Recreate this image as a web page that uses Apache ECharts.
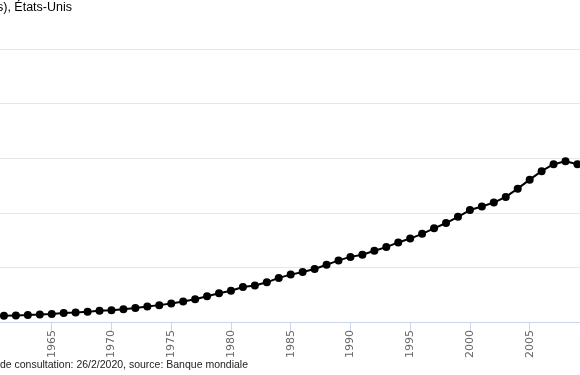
<!DOCTYPE html>
<html>
<head>
<meta charset="utf-8">
<script src="https://cdn.jsdelivr.net/npm/echarts@6/dist/echarts.min.js"></script>
<style>
  html, body { margin: 0; padding: 0; overflow: hidden; background: #fff; }
  #chart { position: absolute; left: -200px; top: 0; width: 1000px; height: 375px; }
</style>
</head>
<body>
<div id="chart"></div>
<script>
// annees et PIB en milliards de $ US courants
var years = [];
for (var y = 1960; y <= 2018; y++) { years.push(String(y)); }

var pib = [
    543.3, 563.3, 605.1, 638.6, 685.8, 743.7, 815.0, 861.7, 942.5, 1019.9,
    1073.3, 1164.9, 1279.1, 1425.4, 1545.2, 1684.9, 1873.4, 2081.8, 2351.6, 2627.3,
    2857.3, 3207.0, 3343.8, 3634.0, 4037.6, 4338.9, 4579.6, 4855.2, 5236.4, 5641.6,
    5963.1, 6158.1, 6520.3, 6858.6, 7287.2, 7639.7, 8073.1, 8577.6, 9062.8, 9631.2,
    10252.3, 10581.8, 10936.4, 11458.2, 12213.7, 13036.6, 13814.6, 14451.9, 14712.8, 14448.9,
    14992.1, 15542.6, 16197.0, 16784.9, 17527.3, 18238.3, 18745.1, 19543.0, 20611.9
];

var titre = 'PIB ($ US courants), États-Unis';
var source = 'Date de consultation: 26/2/2020, source: Banque mondiale';

var chart = echarts.init(document.getElementById('chart'));

var option = {
    animation: false,
    grid: {
        left: 192,
        top: 49,
        width: 693,
        height: 273
    },
    graphic: [
        {
            type: 'text',
            x: 272,
            y: 8,
            style: {
                text: titre,
                align: 'right',
                verticalAlign: 'middle',
                fill: '#000',
                font: '12.5px "Liberation Sans", Arial, sans-serif'
            }
        },
        {
            type: 'text',
            x: 448,
            y: 365,
            style: {
                text: source,
                align: 'right',
                verticalAlign: 'middle',
                fill: '#222',
                font: '10.5px "Liberation Sans", Arial, sans-serif'
            }
        }
    ],
    xAxis: {
        type: 'category',
        boundaryGap: false,
        data: years,
        axisLine: { lineStyle: { color: '#ccd6eb', width: 1 } },
        axisTick: {
            interval: 4,
            length: 10,
            lineStyle: { color: '#ccd6eb' }
        },
        axisLabel: {
            interval: 4,
            rotate: 90,
            color: '#666',
            fontSize: 11,
            fontFamily: '"DejaVu Sans", Verdana, sans-serif',
            margin: 8
        },
        splitLine: { show: false }
    },
    yAxis: {
        type: 'value',
        min: 0,
        max: 25000,
        interval: 5000,
        axisLine: { show: false },
        axisTick: { show: false },
        axisLabel: {
            color: '#666',
            fontSize: 11,
            formatter: function(v) { return (v / 1000) + ' T'; }
        },
        splitLine: { lineStyle: { color: '#e6e6e6', width: 1 } }
    },
    series: [
        {
            type: 'line',
            data: pib,
            symbol: 'circle',
            symbolSize: 8,
            showAllSymbol: true,
            itemStyle: { color: '#000' },
            lineStyle: { color: '#000', width: 2 }
        }
    ]
};

chart.setOption(option);
</script>
</body>
</html>
